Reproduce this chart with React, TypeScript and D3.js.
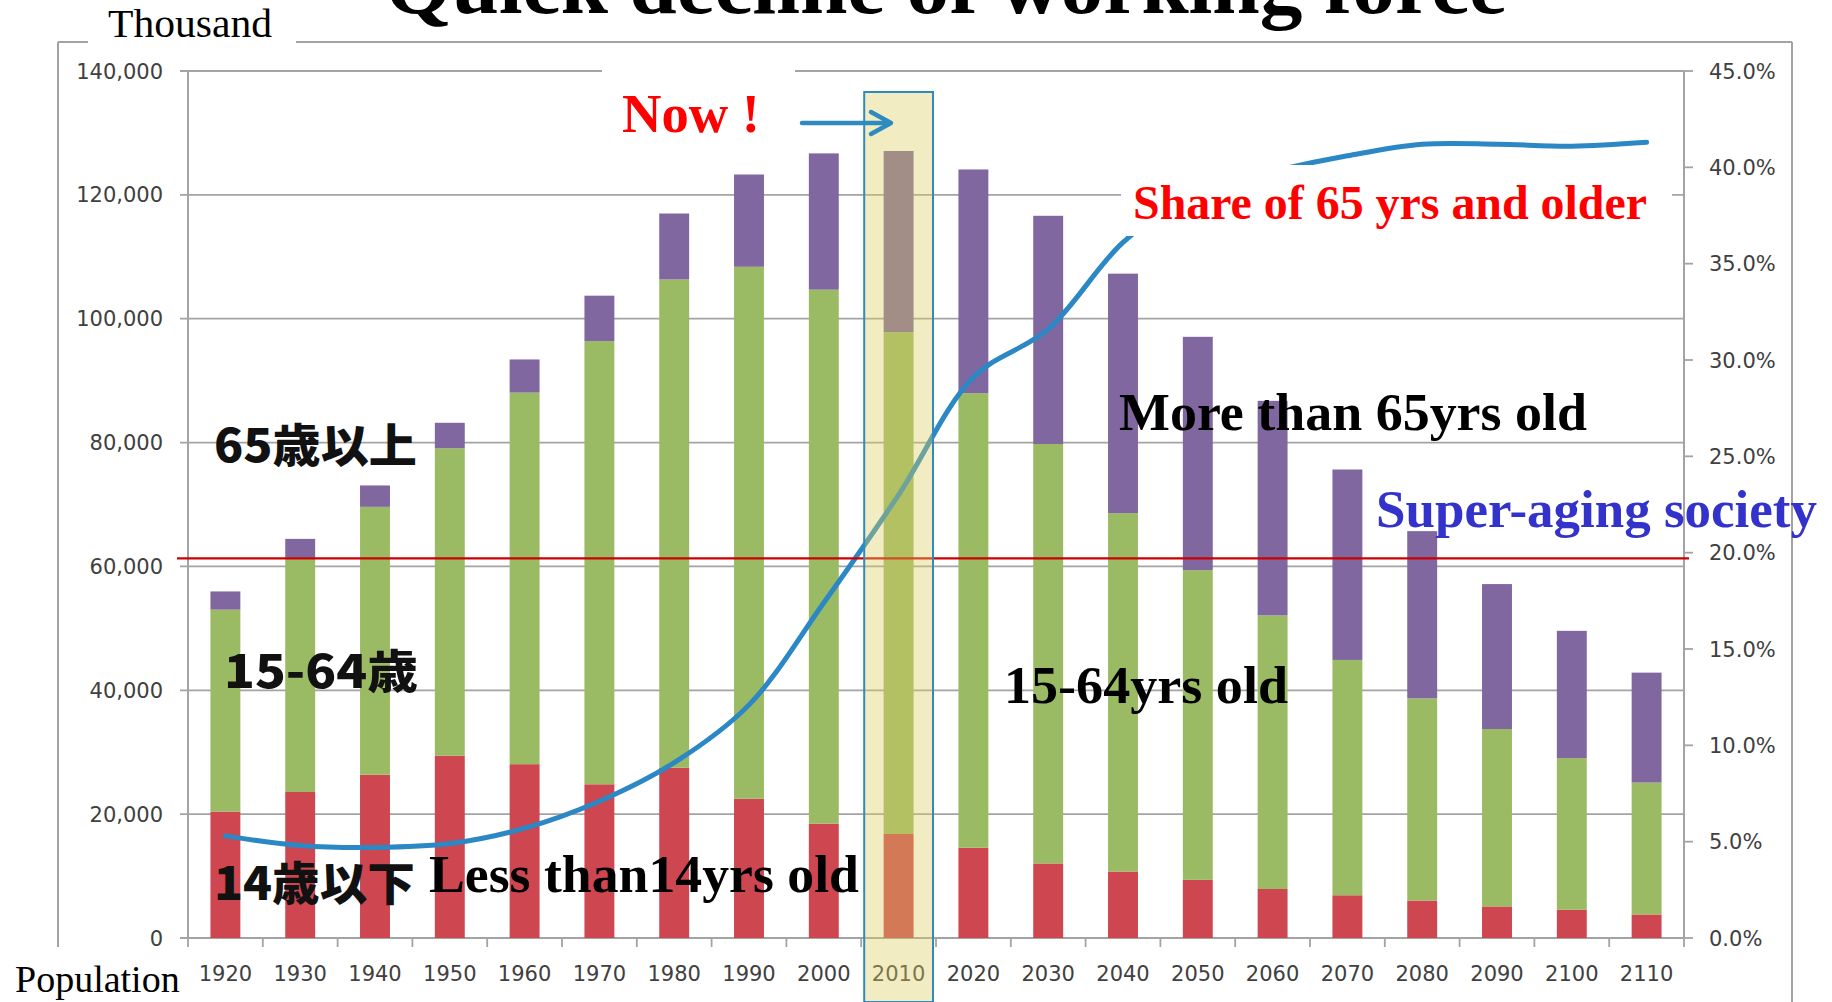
import React from "react";
import * as d3 from "d3";

// population by age group, thousand persons
const years = ["1920", "1930", "1940", "1950", "1960", "1970", "1980", "1990", "2000", "2010",
  "2020", "2030", "2040", "2050", "2060", "2070", "2080", "2090", "2100", "2110"];
const under15 = [20416, 23579, 26369, 29428, 28067, 24823, 27507, 22486, 18472, 16803,
  14568, 12039, 10732, 9387, 7912, 6900, 6050, 5100, 4550, 3800];
const age15to64 = [32605, 37807, 43252, 49658, 60002, 71566, 78835, 85904, 86220, 81032,
  73408, 67730, 57866, 50013, 44183, 38000, 32650, 28650, 24500, 21300];
const over65 = [2941, 3064, 3454, 4109, 5350, 7331, 10647, 14895, 22005, 29246,
  36124, 36849, 38678, 37676, 34642, 30750, 27000, 23400, 20550, 17750];
// share of 65 and older, %
const shareOver65 = [5.3, 4.8, 4.7, 4.9, 5.7, 7.1, 9.1, 12.1, 17.4, 23.0,
  29.1, 31.6, 36.1, 38.8, 39.8, 40.6, 41.2, 41.2, 41.1, 41.3];

const popTicks = [0, 20000, 40000, 60000, 80000, 100000, 120000, 140000];
const shareTicks = [0, 5, 10, 15, 20, 25, 30, 35, 40, 45];
const superAgingLevel = 19.7;
const nowYear = "2010";

const W = 1832;
const H = 1002;
const plot = { left: 188, right: 1684, top: 71, bottom: 938 };

const serif = "'Liberation Serif', 'Times New Roman', serif";
const sans = "'DejaVu Sans', sans-serif";
const jp = "'Noto Sans CJK JP', sans-serif";
const grid = "#a3a3a3";
const labelColor = "#404040";

export default function App() {
  const x = d3
    .scaleBand<string>()
    .domain(years)
    .range([plot.left, plot.right])
    .paddingInner(0.6)
    .paddingOuter(0.3);
  const y = d3.scaleLinear().domain([0, 140000]).range([plot.bottom, plot.top]);
  const yR = d3.scaleLinear().domain([0, 45]).range([plot.bottom, plot.top]);

  const table = years.map((year, i) => ({
    year,
    young: under15[i],
    working: age15to64[i],
    old: over65[i],
  }));
  const keys = ["young", "working", "old"];
  const series = d3.stack<any>().keys(keys)(table);
  const colors: Record<string, string> = {
    young: "#cd4650",
    working: "#9bba64",
    old: "#8067a0",
  };

  const cx = (yr: string) => (x(yr) ?? 0) + x.bandwidth() / 2;
  const bounds = d3.range(years.length + 1).map((i) => plot.left + i * x.step());

  const shareLine = d3
    .line<number>()
    .x((_, i) => cx(years[i]))
    .y((d) => yR(d))
    .curve(d3.curveCatmullRom.alpha(0.5));

  const hx0 = cx(nowYear) - x.step() / 2 + 3;
  const hx1 = cx(nowYear) + x.step() / 2 - 3;

  return (
    <div style={{ position: "absolute", left: 0, top: 0 }}>
      <svg width={W} height={H} viewBox={`0 0 ${W} ${H}`} style={{ display: "block", background: "#fff" }}>
        {/* outer frame */}
        <line x1={58} x2={1792} y1={42} y2={42} stroke={grid} strokeWidth={2} />
        <line x1={58} x2={58} y1={42} y2={947} stroke={grid} strokeWidth={2} />
        <line x1={1792} x2={1792} y1={42} y2={H} stroke={grid} strokeWidth={2} />
        <rect x={88} y={30} width={208} height={24} fill="#fff" />

        {/* gridlines */}
        {popTicks.map((t) => (
          <line key={t} x1={plot.left - 8} x2={plot.right} y1={y(t)} y2={y(t)} stroke={grid} strokeWidth={1.8} />
        ))}

        {/* axes */}
        <line x1={plot.left} x2={plot.left} y1={plot.top} y2={plot.bottom} stroke={grid} strokeWidth={2} />
        <line x1={plot.right} x2={plot.right} y1={plot.top} y2={plot.bottom} stroke={grid} strokeWidth={2} />
        {popTicks.map((t) => (
          <text key={t} x={163} y={y(t)} dy="0.36em" textAnchor="end" fontFamily={sans} fontSize={21} fill={labelColor}>
            {d3.format(",")(t)}
          </text>
        ))}
        {shareTicks.map((t) => (
          <g key={t}>
            <line x1={plot.right} x2={plot.right + 9} y1={yR(t)} y2={yR(t)} stroke={grid} strokeWidth={1.8} />
            <text x={1709} y={yR(t)} dy="0.36em" fontFamily={sans} fontSize={21} fill={labelColor}>
              {t.toFixed(1)}%
            </text>
          </g>
        ))}
        {bounds.map((b, i) => (
          <line key={i} x1={b} x2={b} y1={plot.bottom} y2={plot.bottom + 9} stroke={grid} strokeWidth={1.8} />
        ))}
        {years.map((yr) => (
          <text key={yr} x={cx(yr)} y={981} textAnchor="middle" fontFamily={sans} fontSize={21} fill={labelColor}>
            {yr}
          </text>
        ))}

        {/* stacked bars */}
        {series.map((s) => (
          <g key={s.key} fill={colors[s.key]}>
            {s.map((d: any) => (
              <rect
                key={d.data.year}
                x={x(d.data.year)}
                y={y(d[1])}
                width={x.bandwidth()}
                height={y(d[0]) - y(d[1])}
              />
            ))}
          </g>
        ))}

        {/* share of 65+ line */}
        <path d={shareLine(shareOver65) ?? ""} fill="none" stroke="#2b88c4" strokeWidth={5} strokeLinecap="round" />

        {/* super-aging threshold */}
        <line x1={177} x2={1689} y1={yR(superAgingLevel)} y2={yR(superAgingLevel)} stroke="#cc0000" strokeWidth={2.2} />

        {/* white boxes behind callouts */}
        <rect x={602} y={58} width={193} height={86} fill="#fff" />
        <rect x={1121} y={165} width={551} height={71} fill="#fff" />

        {/* 2010 highlight */}
        <rect x={hx0} y={92} width={hx1 - hx0} height={H - 92} fill="rgb(222,205,95)" fillOpacity={0.38} stroke="#2f8ac2" strokeWidth={2} />

        {/* now arrow */}
        <line x1={802} x2={889} y1={123} y2={123} stroke="#2e8bc0" strokeWidth={4.5} strokeLinecap="round" />
        <polyline points="871,112 891,123 871,134" fill="none" stroke="#2e8bc0" strokeWidth={4.5} strokeLinecap="round" strokeLinejoin="round" />

        {/* title and axis captions */}
        <text x={946} y={13} textAnchor="middle" fontFamily={serif} fontWeight="bold" fontSize={82} textLength={1122} lengthAdjust="spacingAndGlyphs" fill="#000">
          Quick decline of working force
        </text>
        <text x={108} y={37} fontFamily={serif} fontSize={41} textLength={164} lengthAdjust="spacingAndGlyphs" fill="#000">Thousand</text>
        <text x={15} y={992} fontFamily={serif} fontSize={38} fill="#000">Population</text>

        {/* annotations */}
        <text x={622} y={132} fontFamily={serif} fontWeight="bold" fontSize={54} textLength={138} lengthAdjust="spacingAndGlyphs" fill="#ff0000">Now !</text>
        <text x={1133} y={219} fontFamily={serif} fontWeight="bold" fontSize={48} textLength={514} lengthAdjust="spacingAndGlyphs" fill="#ff0000">Share of 65 yrs and older</text>
        <text x={1119} y={430} fontFamily={serif} fontWeight="bold" fontSize={53} textLength={468} lengthAdjust="spacingAndGlyphs" fill="#000">More than 65yrs old</text>
        <text x={1376} y={527} fontFamily={serif} fontWeight="bold" fontSize={52} textLength={441} lengthAdjust="spacingAndGlyphs" fill="#3333cc">Super-aging society</text>
        <text x={1004} y={703} fontFamily={serif} fontWeight="bold" fontSize={53} textLength={284} lengthAdjust="spacingAndGlyphs" fill="#000">15-64yrs old</text>
        <text x={429} y={892} fontFamily={serif} fontWeight="bold" fontSize={53} textLength={430} lengthAdjust="spacingAndGlyphs" fill="#000">Less than14yrs old</text>

        <text x={214} y={462} fontFamily={jp} fontWeight={900} fontSize={46} textLength={203} lengthAdjust="spacingAndGlyphs" fill="#111">65歳以上</text>
        <text x={224} y={688} fontFamily={jp} fontWeight={900} fontSize={46} textLength={194} lengthAdjust="spacingAndGlyphs" fill="#111">15-64歳</text>
        <text x={214} y={900} fontFamily={jp} fontWeight={900} fontSize={46} textLength={201} lengthAdjust="spacingAndGlyphs" fill="#111">14歳以下</text>
      </svg>
    </div>
  );
}
